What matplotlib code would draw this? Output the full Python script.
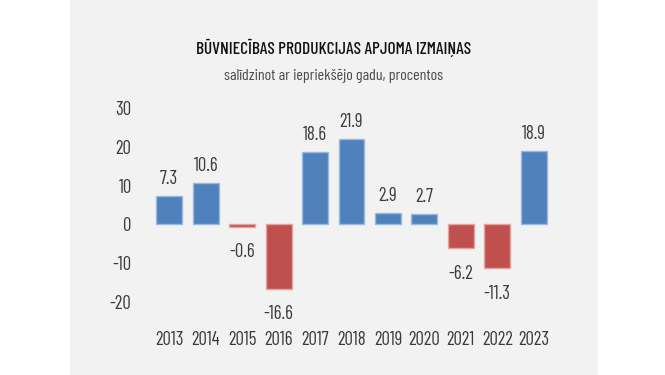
import matplotlib
matplotlib.use('Agg')
from matplotlib import pyplot as plt

years = ['2013', '2014', '2015', '2016', '2017', '2018', '2019', '2020', '2021', '2022', '2023']
values = [7.3, 10.6, -0.6, -16.6, 18.6, 21.9, 2.9, 2.7, -6.2, -11.3, 18.9]
yticks = [-20, -10, 0, 10, 20, 30]

plt.rcParams['font.family'] = ['Barlow Condensed', 'DejaVu Sans']

blue, red = '#4f81bd', '#c0504d'
txt = '#3a3a3a'

fig = plt.figure(figsize=(6.65, 3.75), dpi=100)
fig.patch.set_facecolor('white')
# grey panel behind the chart
fig.add_artist(plt.Rectangle((70 / 665, 0), (598 - 70) / 665, 1, transform=fig.transFigure,
                             facecolor='#f2f2f2', edgecolor='none', zorder=0))

ax = fig.add_axes([151 / 665, (375 - 302) / 375, (552 - 151) / 665, (302 - 108) / 375])
ax.set_facecolor('none')
x = range(len(years))
colors = [blue if v >= 0 else red for v in values]
edges = ['#9db8dd' if v >= 0 else '#e3a3a1' for v in values]
ax.bar(x, values, width=0.71, color=colors, edgecolor=edges, linewidth=1)

for i, v in enumerate(values):
    if v >= 0:
        ax.annotate(f'{v:.1f}', (i, v), xytext=(0, 6), textcoords='offset points',
                    ha='center', va='bottom', fontsize=13.5, color=txt)
    else:
        ax.annotate(f'{v:.1f}', (i, v), xytext=(0, -12), textcoords='offset points',
                    ha='center', va='top', fontsize=13.5, color=txt, annotation_clip=False)

ax.set_xlim(-0.5, len(years) - 0.5)
ax.set_ylim(-20, 30)
ax.set_yticks(yticks)
ax.set_yticklabels([str(t) for t in yticks], fontsize=13.5, color=txt)
ax.set_xticks(list(x))
ax.set_xticklabels(years, fontsize=13.5, color=txt)
ax.tick_params(length=0)
ax.tick_params(axis='y', pad=14)
ax.tick_params(axis='x', pad=21)
for s in ax.spines.values():
    s.set_visible(False)

fig.text(334 / 665, 1 - 48 / 375, 'BŪVNIECĪBAS PRODUKCIJAS APJOMA IZMAIŅAS', ha='center', va='center',
         fontsize=12.5, color='#111111', fontweight='medium')
fig.text(334 / 665, 1 - 76 / 375, 'salīdzinot ar iepriekšējo gadu, procentos', ha='center', va='center',
         fontsize=11.5, color='#4a4a4a')

plt.savefig('out.png', dpi=100)
